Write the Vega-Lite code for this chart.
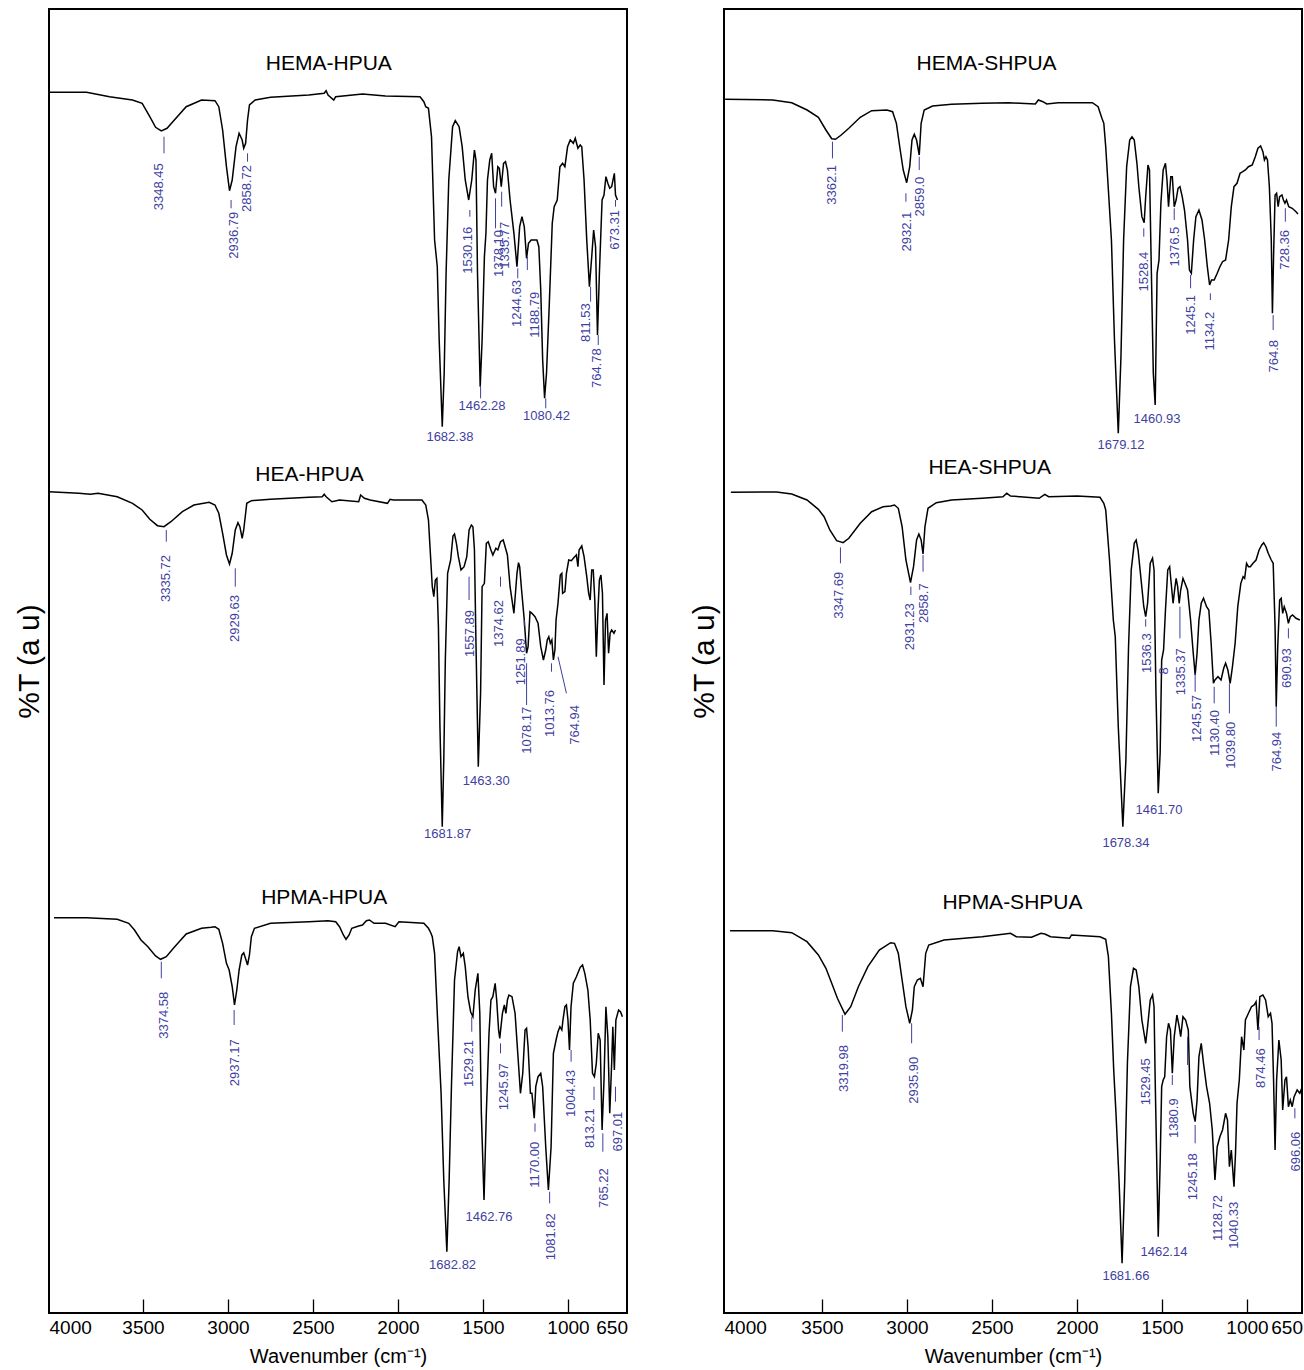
{
"$schema":"https://vega.github.io/schema/vega-lite/v6.json",
"background":"white",
"padding":{"left":13,"top":8,"right":2,"bottom":2},
"spacing":59,
"config":{"view":{"stroke":"black","strokeWidth":2},"font":"Liberation Sans","text":{"font":"Liberation Sans"}},
"datasets":{
"spec":[
{"p":"L","s":"A","w":4000,"v":122.07},{"p":"L","s":"A","w":3779,"v":122.07},{"p":"L","s":"A","w":3644,"v":121.63},{"p":"L","s":"A","w":3509,"v":121.3},{"p":"L","s":"A","w":3452,"v":120.97},{"p":"L","s":"A","w":3407,"v":119.63},{"p":"L","s":"A","w":3373,"v":118.57},{"p":"L","s":"A","w":3339.4,"v":118.2},{"p":"L","s":"A","w":3305.6,"v":118.47},{"p":"L","s":"A","w":3271.8,"v":119.13},{"p":"L","s":"A","w":3193,"v":120.63},{"p":"L","s":"A","w":3102.7,"v":121.3},{"p":"L","s":"A","w":3023.8,"v":121.23},{"p":"L","s":"A","w":3001.2,"v":120.63},{"p":"L","s":"A","w":2978.7,"v":118.3},{"p":"L","s":"A","w":2956.2,"v":114.63},{"p":"L","s":"A","w":2938.2,"v":112.23},{"p":"L","s":"A","w":2922.3,"v":113.3},{"p":"L","s":"A","w":2899.8,"v":116.63},{"p":"L","s":"A","w":2881.7,"v":117.97},{"p":"L","s":"A","w":2863.7,"v":117.3},{"p":"L","s":"A","w":2854.7,"v":116.47},{"p":"L","s":"A","w":2843.4,"v":116.97},{"p":"L","s":"A","w":2832.1,"v":119.3},{"p":"L","s":"A","w":2820.8,"v":120.8},{"p":"L","s":"A","w":2787,"v":121.3},{"p":"L","s":"A","w":2696.8,"v":121.57},{"p":"L","s":"A","w":2471.4,"v":121.8},{"p":"L","s":"A","w":2381.2,"v":121.97},{"p":"L","s":"A","w":2369.9,"v":122.23},{"p":"L","s":"A","w":2358.6,"v":121.8},{"p":"L","s":"A","w":2324.8,"v":121.3},{"p":"L","s":"A","w":2313.5,"v":121.63},{"p":"L","s":"A","w":2155.7,"v":121.9},{"p":"L","s":"A","w":2020.5,"v":121.7},{"p":"L","s":"A","w":1817.6,"v":121.63},{"p":"L","s":"A","w":1795,"v":121.13},{"p":"L","s":"A","w":1783.7,"v":120.63},{"p":"L","s":"A","w":1767.9,"v":120.47},{"p":"L","s":"A","w":1749.9,"v":117.63},{"p":"L","s":"A","w":1731.8,"v":107.3},{"p":"L","s":"A","w":1716,"v":104.63},{"p":"L","s":"A","w":1704.8,"v":97.3},{"p":"L","s":"A","w":1686.7,"v":88.63},{"p":"L","s":"A","w":1675.5,"v":93.97},{"p":"L","s":"A","w":1664.2,"v":103.97},{"p":"L","s":"A","w":1648.4,"v":113.3},{"p":"L","s":"A","w":1625.9,"v":118.63},{"p":"L","s":"A","w":1610.1,"v":119.23},{"p":"L","s":"A","w":1587.6,"v":118.63},{"p":"L","s":"A","w":1569.6,"v":116.63},{"p":"L","s":"A","w":1551.5,"v":113.3},{"p":"L","s":"A","w":1531.2,"v":111.3},{"p":"L","s":"A","w":1513.2,"v":113.3},{"p":"L","s":"A","w":1497.4,"v":116.3},{"p":"L","s":"A","w":1488.4,"v":115.3},{"p":"L","s":"A","w":1479.4,"v":103.97},{"p":"L","s":"A","w":1463.6,"v":92.63},{"p":"L","s":"A","w":1452.3,"v":97.3},{"p":"L","s":"A","w":1438.8,"v":105.63},{"p":"L","s":"A","w":1429.8,"v":107.97},{"p":"L","s":"A","w":1420.8,"v":113.3},{"p":"L","s":"A","w":1407.2,"v":115.3},{"p":"L","s":"A","w":1395.9,"v":115.97},{"p":"L","s":"A","w":1384.6,"v":112.63},{"p":"L","s":"A","w":1373.4,"v":111.97},{"p":"L","s":"A","w":1359.9,"v":114.63},{"p":"L","s":"A","w":1350.8,"v":114.47},{"p":"L","s":"A","w":1339.6,"v":112.63},{"p":"L","s":"A","w":1326.1,"v":114.97},{"p":"L","s":"A","w":1314.8,"v":115.13},{"p":"L","s":"A","w":1303.5,"v":114.3},{"p":"L","s":"A","w":1287.8,"v":111.3},{"p":"L","s":"A","w":1265.2,"v":107.97},{"p":"L","s":"A","w":1247.2,"v":104.63},{"p":"L","s":"A","w":1231.4,"v":108.63},{"p":"L","s":"A","w":1217.9,"v":109.63},{"p":"L","s":"A","w":1204.3,"v":108.63},{"p":"L","s":"A","w":1190.8,"v":105.47},{"p":"L","s":"A","w":1179.5,"v":106.97},{"p":"L","s":"A","w":1163.7,"v":107.3},{"p":"L","s":"A","w":1129.9,"v":107.3},{"p":"L","s":"A","w":1118.6,"v":106.63},{"p":"L","s":"A","w":1107.4,"v":102.3},{"p":"L","s":"A","w":1096.1,"v":95.3},{"p":"L","s":"A","w":1084.8,"v":91.47},{"p":"L","s":"A","w":1073.5,"v":93.97},{"p":"L","s":"A","w":1057.7,"v":100.63},{"p":"L","s":"A","w":1039.7,"v":108.97},{"p":"L","s":"A","w":1028.4,"v":110.63},{"p":"L","s":"A","w":1010.4,"v":111.3},{"p":"L","s":"A","w":994.6,"v":114.63},{"p":"L","s":"A","w":978.8,"v":114.97},{"p":"L","s":"A","w":965.3,"v":114.63},{"p":"L","s":"A","w":949.5,"v":116.63},{"p":"L","s":"A","w":933.7,"v":117.3},{"p":"L","s":"A","w":915.7,"v":116.97},{"p":"L","s":"A","w":904.4,"v":117.47},{"p":"L","s":"A","w":888.7,"v":116.47},{"p":"L","s":"A","w":875.1,"v":116.8},{"p":"L","s":"A","w":866.1,"v":116.63},{"p":"L","s":"A","w":852.6,"v":113.3},{"p":"L","s":"A","w":836.8,"v":107.3},{"p":"L","s":"A","w":821,"v":102.63},{"p":"L","s":"A","w":807.5,"v":105.63},{"p":"L","s":"A","w":796.2,"v":108.3},{"p":"L","s":"A","w":784.9,"v":106.63},{"p":"L","s":"A","w":773.6,"v":97.8},{"p":"L","s":"A","w":762.4,"v":103.97},{"p":"L","s":"A","w":746.6,"v":111.3},{"p":"L","s":"A","w":735.3,"v":111.8},{"p":"L","s":"A","w":724,"v":113.63},{"p":"L","s":"A","w":712.7,"v":112.97},{"p":"L","s":"A","w":701.5,"v":112.47},{"p":"L","s":"A","w":690.2,"v":112.63},{"p":"L","s":"A","w":674.4,"v":113.97},{"p":"L","s":"A","w":667.6,"v":111.8},{"p":"L","s":"A","w":656.3,"v":111.3},
{"p":"L","s":"B","w":4000,"v":82.13},{"p":"L","s":"B","w":3824.1,"v":81.97},{"p":"L","s":"B","w":3756.5,"v":81.87},{"p":"L","s":"B","w":3711.4,"v":81.97},{"p":"L","s":"B","w":3598.7,"v":81.63},{"p":"L","s":"B","w":3508.5,"v":80.97},{"p":"L","s":"B","w":3452.1,"v":80.3},{"p":"L","s":"B","w":3407,"v":79.37},{"p":"L","s":"B","w":3361.9,"v":78.73},{"p":"L","s":"B","w":3323.6,"v":78.63},{"p":"L","s":"B","w":3283,"v":79.13},{"p":"L","s":"B","w":3215.4,"v":80.13},{"p":"L","s":"B","w":3147.8,"v":80.8},{"p":"L","s":"B","w":3057.6,"v":81.07},{"p":"L","s":"B","w":3023.8,"v":80.8},{"p":"L","s":"B","w":3001.2,"v":79.97},{"p":"L","s":"B","w":2978.7,"v":77.97},{"p":"L","s":"B","w":2956.2,"v":75.8},{"p":"L","s":"B","w":2938.2,"v":74.9},{"p":"L","s":"B","w":2922.3,"v":75.97},{"p":"L","s":"B","w":2904.3,"v":78.3},{"p":"L","s":"B","w":2888.5,"v":79.03},{"p":"L","s":"B","w":2877.2,"v":78.63},{"p":"L","s":"B","w":2863.7,"v":77.47},{"p":"L","s":"B","w":2854.7,"v":78.3},{"p":"L","s":"B","w":2836.6,"v":80.97},{"p":"L","s":"B","w":2809.6,"v":81.23},{"p":"L","s":"B","w":2696.8,"v":81.37},{"p":"L","s":"B","w":2471.4,"v":81.57},{"p":"L","s":"B","w":2392.5,"v":81.63},{"p":"L","s":"B","w":2381.2,"v":81.87},{"p":"L","s":"B","w":2369.9,"v":81.63},{"p":"L","s":"B","w":2336.1,"v":81.13},{"p":"L","s":"B","w":2291,"v":81.3},{"p":"L","s":"B","w":2178.3,"v":81.13},{"p":"L","s":"B","w":2167,"v":81.8},{"p":"L","s":"B","w":2144.5,"v":81.47},{"p":"L","s":"B","w":2110.7,"v":81.3},{"p":"L","s":"B","w":2009.2,"v":80.97},{"p":"L","s":"B","w":1993.4,"v":81.37},{"p":"L","s":"B","w":1975.4,"v":81.3},{"p":"L","s":"B","w":1806.3,"v":81.3},{"p":"L","s":"B","w":1783.7,"v":80.8},{"p":"L","s":"B","w":1767.9,"v":79.3},{"p":"L","s":"B","w":1754.4,"v":75.3},{"p":"L","s":"B","w":1745.4,"v":72.63},{"p":"L","s":"B","w":1736.4,"v":71.63},{"p":"L","s":"B","w":1727.4,"v":73.3},{"p":"L","s":"B","w":1718.4,"v":73.47},{"p":"L","s":"B","w":1709.3,"v":68.63},{"p":"L","s":"B","w":1700.3,"v":58.63},{"p":"L","s":"B","w":1686.8,"v":48.63},{"p":"L","s":"B","w":1677.8,"v":55.3},{"p":"L","s":"B","w":1668.7,"v":65.3},{"p":"L","s":"B","w":1655.2,"v":73.97},{"p":"L","s":"B","w":1637.2,"v":75.3},{"p":"L","s":"B","w":1623.7,"v":77.7},{"p":"L","s":"B","w":1614.6,"v":77.9},{"p":"L","s":"B","w":1603.4,"v":76.97},{"p":"L","s":"B","w":1592.1,"v":75.63},{"p":"L","s":"B","w":1576.3,"v":74.3},{"p":"L","s":"B","w":1558.3,"v":74.63},{"p":"L","s":"B","w":1542.5,"v":75.63},{"p":"L","s":"B","w":1528.9,"v":78.3},{"p":"L","s":"B","w":1515.4,"v":78.8},{"p":"L","s":"B","w":1506.4,"v":78.63},{"p":"L","s":"B","w":1497.4,"v":76.3},{"p":"L","s":"B","w":1488.4,"v":66.97},{"p":"L","s":"B","w":1474.8,"v":54.63},{"p":"L","s":"B","w":1461.3,"v":61.97},{"p":"L","s":"B","w":1452.3,"v":72.63},{"p":"L","s":"B","w":1438.8,"v":72.97},{"p":"L","s":"B","w":1427.5,"v":76.97},{"p":"L","s":"B","w":1416.2,"v":77.13},{"p":"L","s":"B","w":1400.4,"v":76.3},{"p":"L","s":"B","w":1389.1,"v":75.8},{"p":"L","s":"B","w":1371.1,"v":76.47},{"p":"L","s":"B","w":1359.9,"v":76.3},{"p":"L","s":"B","w":1344.1,"v":77.13},{"p":"L","s":"B","w":1328.3,"v":77.3},{"p":"L","s":"B","w":1317,"v":76.63},{"p":"L","s":"B","w":1303.5,"v":75.8},{"p":"L","s":"B","w":1287.8,"v":72.63},{"p":"L","s":"B","w":1265.2,"v":69.97},{"p":"L","s":"B","w":1247.2,"v":73.97},{"p":"L","s":"B","w":1238.1,"v":75.03},{"p":"L","s":"B","w":1231.4,"v":74.63},{"p":"L","s":"B","w":1220.1,"v":72.3},{"p":"L","s":"B","w":1204.3,"v":69.3},{"p":"L","s":"B","w":1190.8,"v":65.97},{"p":"L","s":"B","w":1181.8,"v":66.63},{"p":"L","s":"B","w":1170.5,"v":70.13},{"p":"L","s":"B","w":1159.2,"v":69.97},{"p":"L","s":"B","w":1141.2,"v":69.63},{"p":"L","s":"B","w":1123.2,"v":68.97},{"p":"L","s":"B","w":1107.4,"v":66.63},{"p":"L","s":"B","w":1091.6,"v":65.3},{"p":"L","s":"B","w":1078.1,"v":66.3},{"p":"L","s":"B","w":1069,"v":67.3},{"p":"L","s":"B","w":1060,"v":67.63},{"p":"L","s":"B","w":1051,"v":66.97},{"p":"L","s":"B","w":1042,"v":67.3},{"p":"L","s":"B","w":1033,"v":65.3},{"p":"L","s":"B","w":1024,"v":66.3},{"p":"L","s":"B","w":1017.3,"v":69.3},{"p":"L","s":"B","w":1005.9,"v":70.97},{"p":"L","s":"B","w":992.4,"v":73.8},{"p":"L","s":"B","w":983.4,"v":73.97},{"p":"L","s":"B","w":978.8,"v":71.97},{"p":"L","s":"B","w":965.3,"v":72.13},{"p":"L","s":"B","w":956.3,"v":73.97},{"p":"L","s":"B","w":942.7,"v":75.3},{"p":"L","s":"B","w":927,"v":75.23},{"p":"L","s":"B","w":915.7,"v":75.47},{"p":"L","s":"B","w":897.7,"v":75.8},{"p":"L","s":"B","w":888.7,"v":74.63},{"p":"L","s":"B","w":881.9,"v":76.3},{"p":"L","s":"B","w":866.1,"v":76.7},{"p":"L","s":"B","w":852.6,"v":75.63},{"p":"L","s":"B","w":836.8,"v":73.63},{"p":"L","s":"B","w":825.5,"v":71.97},{"p":"L","s":"B","w":816.5,"v":71.3},{"p":"L","s":"B","w":807.5,"v":74.3},{"p":"L","s":"B","w":798.5,"v":74.3},{"p":"L","s":"B","w":789.5,"v":71.3},{"p":"L","s":"B","w":780.5,"v":65.63},{"p":"L","s":"B","w":771.4,"v":69.97},{"p":"L","s":"B","w":762.4,"v":73.3},{"p":"L","s":"B","w":753.4,"v":73.8},{"p":"L","s":"B","w":744.4,"v":71.97},{"p":"L","s":"B","w":735.3,"v":62.8},{"p":"L","s":"B","w":726.3,"v":69.3},{"p":"L","s":"B","w":717.3,"v":69.97},{"p":"L","s":"B","w":708.3,"v":65.97},{"p":"L","s":"B","w":699.3,"v":67.97},{"p":"L","s":"B","w":690.2,"v":68.3},{"p":"L","s":"B","w":676.7,"v":67.97},{"p":"L","s":"B","w":667.8,"v":68.3},
{"p":"L","s":"C","w":3970.7,"v":39.53},{"p":"L","s":"C","w":3779,"v":39.53},{"p":"L","s":"C","w":3598.7,"v":39.37},{"p":"L","s":"C","w":3531,"v":38.97},{"p":"L","s":"C","w":3497.2,"v":38.3},{"p":"L","s":"C","w":3458.9,"v":37.3},{"p":"L","s":"C","w":3418.3,"v":36.63},{"p":"L","s":"C","w":3373.2,"v":35.7},{"p":"L","s":"C","w":3343.9,"v":35.37},{"p":"L","s":"C","w":3310.1,"v":35.63},{"p":"L","s":"C","w":3260.5,"v":36.63},{"p":"L","s":"C","w":3192.9,"v":37.9},{"p":"L","s":"C","w":3102.7,"v":38.47},{"p":"L","s":"C","w":3046.3,"v":38.57},{"p":"L","s":"C","w":3023.8,"v":38.63},{"p":"L","s":"C","w":3001.2,"v":38.37},{"p":"L","s":"C","w":2978.7,"v":36.97},{"p":"L","s":"C","w":2956.2,"v":34.97},{"p":"L","s":"C","w":2940.3,"v":34.3},{"p":"L","s":"C","w":2922.3,"v":32.63},{"p":"L","s":"C","w":2908.8,"v":30.8},{"p":"L","s":"C","w":2895.3,"v":32.3},{"p":"L","s":"C","w":2881.7,"v":34.3},{"p":"L","s":"C","w":2865.9,"v":35.8},{"p":"L","s":"C","w":2854.7,"v":36.03},{"p":"L","s":"C","w":2841.1,"v":35.3},{"p":"L","s":"C","w":2832.1,"v":34.8},{"p":"L","s":"C","w":2820.8,"v":35.8},{"p":"L","s":"C","w":2809.6,"v":37.63},{"p":"L","s":"C","w":2791.5,"v":38.47},{"p":"L","s":"C","w":2696.8,"v":38.97},{"p":"L","s":"C","w":2471.4,"v":39.13},{"p":"L","s":"C","w":2358.6,"v":39.23},{"p":"L","s":"C","w":2313.5,"v":39.13},{"p":"L","s":"C","w":2291,"v":38.63},{"p":"L","s":"C","w":2268.5,"v":37.8},{"p":"L","s":"C","w":2252.7,"v":37.37},{"p":"L","s":"C","w":2234.7,"v":37.8},{"p":"L","s":"C","w":2218.9,"v":38.47},{"p":"L","s":"C","w":2178.3,"v":38.7},{"p":"L","s":"C","w":2155.8,"v":38.8},{"p":"L","s":"C","w":2133.2,"v":39.23},{"p":"L","s":"C","w":2115.2,"v":39.3},{"p":"L","s":"C","w":2088.1,"v":38.97},{"p":"L","s":"C","w":2020.5,"v":38.97},{"p":"L","s":"C","w":1964.2,"v":38.63},{"p":"L","s":"C","w":1941.6,"v":39.13},{"p":"L","s":"C","w":1795,"v":38.97},{"p":"L","s":"C","w":1767.9,"v":38.47},{"p":"L","s":"C","w":1754.4,"v":38.03},{"p":"L","s":"C","w":1745.4,"v":37.63},{"p":"L","s":"C","w":1731.9,"v":35.97},{"p":"L","s":"C","w":1716,"v":29.97},{"p":"L","s":"C","w":1693.6,"v":21.97},{"p":"L","s":"C","w":1677.8,"v":13.3},{"p":"L","s":"C","w":1659.7,"v":6.13},{"p":"L","s":"C","w":1646.2,"v":13.3},{"p":"L","s":"C","w":1632.7,"v":22.63},{"p":"L","s":"C","w":1614.6,"v":33.3},{"p":"L","s":"C","w":1596.6,"v":36.13},{"p":"L","s":"C","w":1587.6,"v":36.63},{"p":"L","s":"C","w":1576.3,"v":35.63},{"p":"L","s":"C","w":1562.8,"v":35.97},{"p":"L","s":"C","w":1551.5,"v":34.63},{"p":"L","s":"C","w":1535.7,"v":31.63},{"p":"L","s":"C","w":1520,"v":30.13},{"p":"L","s":"C","w":1506.4,"v":29.63},{"p":"L","s":"C","w":1492.9,"v":32.3},{"p":"L","s":"C","w":1477.1,"v":33.97},{"p":"L","s":"C","w":1465.8,"v":29.97},{"p":"L","s":"C","w":1456.8,"v":19.97},{"p":"L","s":"C","w":1441,"v":11.3},{"p":"L","s":"C","w":1427.5,"v":19.97},{"p":"L","s":"C","w":1411.7,"v":27.97},{"p":"L","s":"C","w":1400.4,"v":31.3},{"p":"L","s":"C","w":1389.1,"v":31.63},{"p":"L","s":"C","w":1375.6,"v":32.97},{"p":"L","s":"C","w":1366.6,"v":31.3},{"p":"L","s":"C","w":1355.4,"v":28.3},{"p":"L","s":"C","w":1348.6,"v":27.47},{"p":"L","s":"C","w":1332.8,"v":29.97},{"p":"L","s":"C","w":1321.5,"v":30.8},{"p":"L","s":"C","w":1312.5,"v":29.97},{"p":"L","s":"C","w":1303.5,"v":31.3},{"p":"L","s":"C","w":1294.5,"v":31.8},{"p":"L","s":"C","w":1276.5,"v":31.63},{"p":"L","s":"C","w":1258.4,"v":29.97},{"p":"L","s":"C","w":1242.6,"v":25.97},{"p":"L","s":"C","w":1226.8,"v":21.97},{"p":"L","s":"C","w":1213.3,"v":23.97},{"p":"L","s":"C","w":1199.8,"v":28.3},{"p":"L","s":"C","w":1190.8,"v":28.47},{"p":"L","s":"C","w":1181.8,"v":26.63},{"p":"L","s":"C","w":1168.3,"v":21.97},{"p":"L","s":"C","w":1159.2,"v":21.97},{"p":"L","s":"C","w":1145.7,"v":19.47},{"p":"L","s":"C","w":1136.7,"v":22.63},{"p":"L","s":"C","w":1123.2,"v":23.63},{"p":"L","s":"C","w":1107.4,"v":23.97},{"p":"L","s":"C","w":1096.1,"v":22.63},{"p":"L","s":"C","w":1078.1,"v":16.63},{"p":"L","s":"C","w":1062.4,"v":12.3},{"p":"L","s":"C","w":1046.6,"v":16.63},{"p":"L","s":"C","w":1033,"v":25.97},{"p":"L","s":"C","w":1017.3,"v":27.3},{"p":"L","s":"C","w":1005.9,"v":28.13},{"p":"L","s":"C","w":994.6,"v":28.63},{"p":"L","s":"C","w":983.4,"v":28.3},{"p":"L","s":"C","w":976.6,"v":29.3},{"p":"L","s":"C","w":965.3,"v":30.63},{"p":"L","s":"C","w":956.3,"v":30.8},{"p":"L","s":"C","w":947.3,"v":29.3},{"p":"L","s":"C","w":938.3,"v":26.3},{"p":"L","s":"C","w":929.3,"v":30.63},{"p":"L","s":"C","w":915.7,"v":32.97},{"p":"L","s":"C","w":897.7,"v":33.63},{"p":"L","s":"C","w":875.2,"v":34.57},{"p":"L","s":"C","w":861.6,"v":34.8},{"p":"L","s":"C","w":848.1,"v":33.97},{"p":"L","s":"C","w":830.1,"v":32.3},{"p":"L","s":"C","w":816.5,"v":29.3},{"p":"L","s":"C","w":803,"v":23.97},{"p":"L","s":"C","w":791.7,"v":23.63},{"p":"L","s":"C","w":780.5,"v":24.97},{"p":"L","s":"C","w":769.2,"v":27.97},{"p":"L","s":"C","w":757.9,"v":27.3},{"p":"L","s":"C","w":746.6,"v":18.3},{"p":"L","s":"C","w":735.3,"v":23.3},{"p":"L","s":"C","w":724.1,"v":30.63},{"p":"L","s":"C","w":712.7,"v":27.63},{"p":"L","s":"C","w":701.5,"v":19.97},{"p":"L","s":"C","w":690.2,"v":24.97},{"p":"L","s":"C","w":683.4,"v":28.63},{"p":"L","s":"C","w":674.4,"v":24.3},{"p":"L","s":"C","w":665.4,"v":29.3},{"p":"L","s":"C","w":649.6,"v":30.3},{"p":"L","s":"C","w":638.3,"v":30.13},{"p":"L","s":"C","w":627,"v":29.63},
{"p":"R","s":"D","w":3993.3,"v":121.37},{"p":"R","s":"D","w":3713.4,"v":121.3},{"p":"R","s":"D","w":3601.5,"v":121.03},{"p":"R","s":"D","w":3511.2,"v":120.3},{"p":"R","s":"D","w":3444.8,"v":119.57},{"p":"R","s":"D","w":3400.4,"v":118.3},{"p":"R","s":"D","w":3366.4,"v":117.43},{"p":"R","s":"D","w":3344,"v":117.37},{"p":"R","s":"D","w":3310.5,"v":117.8},{"p":"R","s":"D","w":3265.7,"v":118.47},{"p":"R","s":"D","w":3198.5,"v":119.57},{"p":"R","s":"D","w":3131.4,"v":120.23},{"p":"R","s":"D","w":3041.8,"v":120.3},{"p":"R","s":"D","w":3008.3,"v":120.13},{"p":"R","s":"D","w":2985.9,"v":118.97},{"p":"R","s":"D","w":2963.5,"v":116.3},{"p":"R","s":"D","w":2945.6,"v":114.3},{"p":"R","s":"D","w":2925.4,"v":113.03},{"p":"R","s":"D","w":2907.5,"v":114.63},{"p":"R","s":"D","w":2894.1,"v":117.3},{"p":"R","s":"D","w":2880.7,"v":117.87},{"p":"R","s":"D","w":2867.2,"v":117.3},{"p":"R","s":"D","w":2851.5,"v":115.8},{"p":"R","s":"D","w":2840.4,"v":118.97},{"p":"R","s":"D","w":2822.4,"v":120.3},{"p":"R","s":"D","w":2773.2,"v":120.7},{"p":"R","s":"D","w":2661.3,"v":120.87},{"p":"R","s":"D","w":2482.2,"v":120.97},{"p":"R","s":"D","w":2325.5,"v":121.03},{"p":"R","s":"D","w":2258.3,"v":120.97},{"p":"R","s":"D","w":2168.7,"v":120.9},{"p":"R","s":"D","w":2150.8,"v":121.3},{"p":"R","s":"D","w":2123.9,"v":121.13},{"p":"R","s":"D","w":2101.6,"v":120.9},{"p":"R","s":"D","w":2034.4,"v":121.03},{"p":"R","s":"D","w":1832.9,"v":121.03},{"p":"R","s":"D","w":1799.4,"v":120.63},{"p":"R","s":"D","w":1777,"v":119.47},{"p":"R","s":"D","w":1765.8,"v":118.97},{"p":"R","s":"D","w":1754.6,"v":116.63},{"p":"R","s":"D","w":1738.9,"v":112.3},{"p":"R","s":"D","w":1721,"v":107.3},{"p":"R","s":"D","w":1703.1,"v":97.3},{"p":"R","s":"D","w":1680.7,"v":87.97},{"p":"R","s":"D","w":1665,"v":95.63},{"p":"R","s":"D","w":1649.4,"v":107.3},{"p":"R","s":"D","w":1631.5,"v":114.63},{"p":"R","s":"D","w":1613.5,"v":117.3},{"p":"R","s":"D","w":1600.1,"v":117.63},{"p":"R","s":"D","w":1586.7,"v":117.3},{"p":"R","s":"D","w":1571,"v":114.97},{"p":"R","s":"D","w":1559.8,"v":112.63},{"p":"R","s":"D","w":1541.9,"v":109.63},{"p":"R","s":"D","w":1528.5,"v":109.03},{"p":"R","s":"D","w":1519.5,"v":111.63},{"p":"R","s":"D","w":1506.1,"v":114.8},{"p":"R","s":"D","w":1497.1,"v":114.3},{"p":"R","s":"D","w":1485.9,"v":103.97},{"p":"R","s":"D","w":1474.7,"v":93.97},{"p":"R","s":"D","w":1463.6,"v":90.8},{"p":"R","s":"D","w":1452.4,"v":103.97},{"p":"R","s":"D","w":1441.2,"v":105.3},{"p":"R","s":"D","w":1430,"v":110.97},{"p":"R","s":"D","w":1416.6,"v":114.3},{"p":"R","s":"D","w":1403.1,"v":114.97},{"p":"R","s":"D","w":1394.2,"v":113.3},{"p":"R","s":"D","w":1385.2,"v":110.63},{"p":"R","s":"D","w":1371.8,"v":113.63},{"p":"R","s":"D","w":1362.8,"v":113.63},{"p":"R","s":"D","w":1351.6,"v":110.63},{"p":"R","s":"D","w":1340.4,"v":111.3},{"p":"R","s":"D","w":1329.2,"v":112.47},{"p":"R","s":"D","w":1318.1,"v":112.63},{"p":"R","s":"D","w":1304.6,"v":111.63},{"p":"R","s":"D","w":1291.2,"v":110.3},{"p":"R","s":"D","w":1273.3,"v":107.3},{"p":"R","s":"D","w":1262.1,"v":104.3},{"p":"R","s":"D","w":1250.9,"v":103.97},{"p":"R","s":"D","w":1237.5,"v":107.3},{"p":"R","s":"D","w":1224.1,"v":109.63},{"p":"R","s":"D","w":1206.2,"v":110.3},{"p":"R","s":"D","w":1188.3,"v":109.3},{"p":"R","s":"D","w":1172.6,"v":107.3},{"p":"R","s":"D","w":1156.9,"v":104.63},{"p":"R","s":"D","w":1143.5,"v":102.8},{"p":"R","s":"D","w":1132.3,"v":103.3},{"p":"R","s":"D","w":1116.6,"v":103.3},{"p":"R","s":"D","w":1098.7,"v":103.97},{"p":"R","s":"D","w":1083,"v":104.63},{"p":"R","s":"D","w":1067.4,"v":105.13},{"p":"R","s":"D","w":1049.5,"v":105.3},{"p":"R","s":"D","w":1031.6,"v":107.3},{"p":"R","s":"D","w":1015.9,"v":110.63},{"p":"R","s":"D","w":1000.1,"v":112.63},{"p":"R","s":"D","w":982.3,"v":112.97},{"p":"R","s":"D","w":964.4,"v":113.97},{"p":"R","s":"D","w":948.7,"v":114.13},{"p":"R","s":"D","w":933,"v":114.3},{"p":"R","s":"D","w":915.1,"v":114.63},{"p":"R","s":"D","w":892.7,"v":114.8},{"p":"R","s":"D","w":874.8,"v":115.63},{"p":"R","s":"D","w":859.1,"v":116.47},{"p":"R","s":"D","w":843.4,"v":116.7},{"p":"R","s":"D","w":830,"v":116.13},{"p":"R","s":"D","w":821.1,"v":115.3},{"p":"R","s":"D","w":812.1,"v":115.63},{"p":"R","s":"D","w":803.1,"v":115.3},{"p":"R","s":"D","w":791.9,"v":112.63},{"p":"R","s":"D","w":780.7,"v":107.3},{"p":"R","s":"D","w":774,"v":99.97},{"p":"R","s":"D","w":767.3,"v":105.63},{"p":"R","s":"D","w":758.4,"v":111.8},{"p":"R","s":"D","w":749.4,"v":111.97},{"p":"R","s":"D","w":740.4,"v":110.63},{"p":"R","s":"D","w":731.5,"v":111.63},{"p":"R","s":"D","w":718.1,"v":111.8},{"p":"R","s":"D","w":709.1,"v":111.3},{"p":"R","s":"D","w":700.2,"v":110.97},{"p":"R","s":"D","w":691.2,"v":111.3},{"p":"R","s":"D","w":677.8,"v":110.63},{"p":"R","s":"D","w":657.6,"v":110.47},{"p":"R","s":"D","w":635.2,"v":110.13},{"p":"R","s":"D","w":623.7,"v":109.9},
{"p":"R","s":"E","w":3959.7,"v":82.07},{"p":"R","s":"E","w":3691.1,"v":82.1},{"p":"R","s":"E","w":3601.5,"v":81.9},{"p":"R","s":"E","w":3511.8,"v":81.3},{"p":"R","s":"E","w":3444.8,"v":80.37},{"p":"R","s":"E","w":3411.2,"v":79.63},{"p":"R","s":"E","w":3377.6,"v":78.3},{"p":"R","s":"E","w":3337.3,"v":77.23},{"p":"R","s":"E","w":3299.3,"v":77.03},{"p":"R","s":"E","w":3265.7,"v":77.47},{"p":"R","s":"E","w":3198.5,"v":78.97},{"p":"R","s":"E","w":3131.4,"v":80.13},{"p":"R","s":"E","w":3064.2,"v":80.63},{"p":"R","s":"E","w":3019.5,"v":80.7},{"p":"R","s":"E","w":2997.1,"v":80.8},{"p":"R","s":"E","w":2974.7,"v":80.47},{"p":"R","s":"E","w":2952.3,"v":78.63},{"p":"R","s":"E","w":2929.9,"v":75.3},{"p":"R","s":"E","w":2903,"v":73.03},{"p":"R","s":"E","w":2885.1,"v":74.63},{"p":"R","s":"E","w":2867.2,"v":77.3},{"p":"R","s":"E","w":2853.8,"v":77.9},{"p":"R","s":"E","w":2840.4,"v":77.3},{"p":"R","s":"E","w":2829.2,"v":75.9},{"p":"R","s":"E","w":2817.9,"v":78.63},{"p":"R","s":"E","w":2800,"v":80.47},{"p":"R","s":"E","w":2750.8,"v":81.03},{"p":"R","s":"E","w":2661.3,"v":81.3},{"p":"R","s":"E","w":2482.2,"v":81.47},{"p":"R","s":"E","w":2359.4,"v":81.63},{"p":"R","s":"E","w":2336.6,"v":81.97},{"p":"R","s":"E","w":2314.3,"v":81.7},{"p":"R","s":"E","w":2258.3,"v":81.63},{"p":"R","s":"E","w":2146.4,"v":81.47},{"p":"R","s":"E","w":2112.8,"v":81.87},{"p":"R","s":"E","w":2090.4,"v":81.63},{"p":"R","s":"E","w":1922.5,"v":81.7},{"p":"R","s":"E","w":1788.2,"v":81.57},{"p":"R","s":"E","w":1765.8,"v":80.97},{"p":"R","s":"E","w":1754.6,"v":80.3},{"p":"R","s":"E","w":1732.2,"v":75.3},{"p":"R","s":"E","w":1709.8,"v":69.3},{"p":"R","s":"E","w":1698.5,"v":67.63},{"p":"R","s":"E","w":1680.7,"v":58.63},{"p":"R","s":"E","w":1653.8,"v":48.63},{"p":"R","s":"E","w":1635.9,"v":55.3},{"p":"R","s":"E","w":1620.3,"v":66.63},{"p":"R","s":"E","w":1604.6,"v":74.3},{"p":"R","s":"E","w":1586.7,"v":76.97},{"p":"R","s":"E","w":1575.5,"v":77.3},{"p":"R","s":"E","w":1564.3,"v":76.3},{"p":"R","s":"E","w":1546.4,"v":73.3},{"p":"R","s":"E","w":1530.7,"v":70.63},{"p":"R","s":"E","w":1519.5,"v":69.63},{"p":"R","s":"E","w":1508.3,"v":70.97},{"p":"R","s":"E","w":1492.7,"v":74.97},{"p":"R","s":"E","w":1479.2,"v":75.47},{"p":"R","s":"E","w":1470.3,"v":74.3},{"p":"R","s":"E","w":1459.1,"v":61.97},{"p":"R","s":"E","w":1445.7,"v":51.97},{"p":"R","s":"E","w":1434.5,"v":55.97},{"p":"R","s":"E","w":1425.5,"v":65.3},{"p":"R","s":"E","w":1414.3,"v":66.3},{"p":"R","s":"E","w":1403.1,"v":70.3},{"p":"R","s":"E","w":1389.7,"v":74.3},{"p":"R","s":"E","w":1378.5,"v":74.63},{"p":"R","s":"E","w":1369.5,"v":72.97},{"p":"R","s":"E","w":1358.3,"v":70.97},{"p":"R","s":"E","w":1349.4,"v":72.3},{"p":"R","s":"E","w":1340.4,"v":73.47},{"p":"R","s":"E","w":1331.5,"v":72.63},{"p":"R","s":"E","w":1322.5,"v":70.97},{"p":"R","s":"E","w":1313.6,"v":72.3},{"p":"R","s":"E","w":1300.1,"v":73.47},{"p":"R","s":"E","w":1284.5,"v":72.8},{"p":"R","s":"E","w":1273.3,"v":72.3},{"p":"R","s":"E","w":1255.4,"v":69.3},{"p":"R","s":"E","w":1239.7,"v":65.97},{"p":"R","s":"E","w":1228.5,"v":63.8},{"p":"R","s":"E","w":1217.3,"v":65.97},{"p":"R","s":"E","w":1206.2,"v":69.3},{"p":"R","s":"E","w":1192.7,"v":70.97},{"p":"R","s":"E","w":1179.3,"v":71.47},{"p":"R","s":"E","w":1161.4,"v":70.63},{"p":"R","s":"E","w":1148,"v":70.3},{"p":"R","s":"E","w":1134.5,"v":66.97},{"p":"R","s":"E","w":1121.1,"v":62.97},{"p":"R","s":"E","w":1112.1,"v":63.3},{"p":"R","s":"E","w":1094.2,"v":63.63},{"p":"R","s":"E","w":1076.3,"v":63.3},{"p":"R","s":"E","w":1060.6,"v":64.47},{"p":"R","s":"E","w":1049.4,"v":64.97},{"p":"R","s":"E","w":1036,"v":64.3},{"p":"R","s":"E","w":1022.6,"v":62.97},{"p":"R","s":"E","w":1009.1,"v":64.63},{"p":"R","s":"E","w":993.4,"v":66.97},{"p":"R","s":"E","w":977.8,"v":70.63},{"p":"R","s":"E","w":959.8,"v":72.97},{"p":"R","s":"E","w":946.4,"v":73.63},{"p":"R","s":"E","w":937.4,"v":73.47},{"p":"R","s":"E","w":926.2,"v":74.97},{"p":"R","s":"E","w":915.1,"v":74.63},{"p":"R","s":"E","w":903.9,"v":74.63},{"p":"R","s":"E","w":888.2,"v":74.97},{"p":"R","s":"E","w":870.3,"v":75.3},{"p":"R","s":"E","w":852.4,"v":76.3},{"p":"R","s":"E","w":836.7,"v":76.8},{"p":"R","s":"E","w":825.5,"v":77.03},{"p":"R","s":"E","w":812.1,"v":76.63},{"p":"R","s":"E","w":798.7,"v":75.97},{"p":"R","s":"E","w":780.7,"v":75.3},{"p":"R","s":"E","w":769.5,"v":74.97},{"p":"R","s":"E","w":758.4,"v":68.63},{"p":"R","s":"E","w":751.6,"v":60.63},{"p":"R","s":"E","w":742.7,"v":66.63},{"p":"R","s":"E","w":731.5,"v":71.3},{"p":"R","s":"E","w":722.5,"v":71.47},{"p":"R","s":"E","w":713.6,"v":69.97},{"p":"R","s":"E","w":704.6,"v":70.63},{"p":"R","s":"E","w":691.2,"v":69.97},{"p":"R","s":"E","w":680,"v":68.97},{"p":"R","s":"E","w":668.8,"v":69.63},{"p":"R","s":"E","w":655.4,"v":69.8},{"p":"R","s":"E","w":635.2,"v":69.47},{"p":"R","s":"E","w":612.8,"v":69.3},
{"p":"R","s":"F","w":3964.2,"v":38.23},{"p":"R","s":"F","w":3713.4,"v":38.23},{"p":"R","s":"F","w":3601.5,"v":38.03},{"p":"R","s":"F","w":3511.8,"v":37.13},{"p":"R","s":"F","w":3444.8,"v":35.8},{"p":"R","s":"F","w":3400.4,"v":34.47},{"p":"R","s":"F","w":3366.4,"v":32.97},{"p":"R","s":"F","w":3332.9,"v":31.47},{"p":"R","s":"F","w":3288.1,"v":29.87},{"p":"R","s":"F","w":3254.5,"v":30.63},{"p":"R","s":"F","w":3209.7,"v":32.63},{"p":"R","s":"F","w":3153.7,"v":34.63},{"p":"R","s":"F","w":3086.6,"v":36.3},{"p":"R","s":"F","w":3019.5,"v":37.03},{"p":"R","s":"F","w":2997.1,"v":36.97},{"p":"R","s":"F","w":2974.7,"v":35.97},{"p":"R","s":"F","w":2952.3,"v":33.3},{"p":"R","s":"F","w":2929.9,"v":30.63},{"p":"R","s":"F","w":2907.5,"v":28.97},{"p":"R","s":"F","w":2891.8,"v":30.3},{"p":"R","s":"F","w":2880.7,"v":32.63},{"p":"R","s":"F","w":2862.7,"v":33.3},{"p":"R","s":"F","w":2844.8,"v":33.47},{"p":"R","s":"F","w":2829.2,"v":32.63},{"p":"R","s":"F","w":2813.5,"v":35.97},{"p":"R","s":"F","w":2795.6,"v":36.8},{"p":"R","s":"F","w":2706,"v":37.3},{"p":"R","s":"F","w":2482.2,"v":37.63},{"p":"R","s":"F","w":2347.8,"v":37.9},{"p":"R","s":"F","w":2314.3,"v":37.97},{"p":"R","s":"F","w":2280.7,"v":37.63},{"p":"R","s":"F","w":2191.1,"v":37.57},{"p":"R","s":"F","w":2135.2,"v":37.97},{"p":"R","s":"F","w":2112.8,"v":37.9},{"p":"R","s":"F","w":2079.2,"v":37.63},{"p":"R","s":"F","w":1967.3,"v":37.47},{"p":"R","s":"F","w":1956.1,"v":37.8},{"p":"R","s":"F","w":1788.2,"v":37.63},{"p":"R","s":"F","w":1754.6,"v":37.37},{"p":"R","s":"F","w":1738.9,"v":35.63},{"p":"R","s":"F","w":1721,"v":29.97},{"p":"R","s":"F","w":1707.6,"v":24.3},{"p":"R","s":"F","w":1694.2,"v":19.97},{"p":"R","s":"F","w":1676.3,"v":13.3},{"p":"R","s":"F","w":1658.3,"v":4.97},{"p":"R","s":"F","w":1642.7,"v":13.3},{"p":"R","s":"F","w":1627,"v":24.97},{"p":"R","s":"F","w":1609.1,"v":32.63},{"p":"R","s":"F","w":1591.2,"v":34.47},{"p":"R","s":"F","w":1575.5,"v":34.3},{"p":"R","s":"F","w":1559.8,"v":32.63},{"p":"R","s":"F","w":1541.9,"v":29.3},{"p":"R","s":"F","w":1519.5,"v":26.97},{"p":"R","s":"F","w":1508.3,"v":28.63},{"p":"R","s":"F","w":1492.7,"v":31.3},{"p":"R","s":"F","w":1479.2,"v":31.8},{"p":"R","s":"F","w":1470.3,"v":30.63},{"p":"R","s":"F","w":1463.6,"v":23.3},{"p":"R","s":"F","w":1452.4,"v":13.3},{"p":"R","s":"F","w":1445.7,"v":7.63},{"p":"R","s":"F","w":1434.5,"v":14.97},{"p":"R","s":"F","w":1425.5,"v":22.63},{"p":"R","s":"F","w":1416.6,"v":23.3},{"p":"R","s":"F","w":1407.6,"v":23.63},{"p":"R","s":"F","w":1396.4,"v":27.63},{"p":"R","s":"F","w":1385.2,"v":28.97},{"p":"R","s":"F","w":1374,"v":28.3},{"p":"R","s":"F","w":1362.8,"v":23.97},{"p":"R","s":"F","w":1351.6,"v":27.63},{"p":"R","s":"F","w":1335.9,"v":29.8},{"p":"R","s":"F","w":1322.5,"v":28.63},{"p":"R","s":"F","w":1313.6,"v":27.63},{"p":"R","s":"F","w":1300.1,"v":29.63},{"p":"R","s":"F","w":1284.5,"v":29.3},{"p":"R","s":"F","w":1268.8,"v":28.3},{"p":"R","s":"F","w":1259.8,"v":22.63},{"p":"R","s":"F","w":1239.7,"v":19.97},{"p":"R","s":"F","w":1228.5,"v":19.13},{"p":"R","s":"F","w":1217.3,"v":21.3},{"p":"R","s":"F","w":1206.2,"v":25.63},{"p":"R","s":"F","w":1192.7,"v":26.97},{"p":"R","s":"F","w":1179.3,"v":24.97},{"p":"R","s":"F","w":1161.4,"v":22.63},{"p":"R","s":"F","w":1143.5,"v":20.97},{"p":"R","s":"F","w":1127.8,"v":18.3},{"p":"R","s":"F","w":1112.1,"v":13.3},{"p":"R","s":"F","w":1098.7,"v":16.63},{"p":"R","s":"F","w":1083,"v":17.63},{"p":"R","s":"F","w":1067.4,"v":18.3},{"p":"R","s":"F","w":1049.5,"v":19.97},{"p":"R","s":"F","w":1038.3,"v":19.3},{"p":"R","s":"F","w":1027,"v":14.63},{"p":"R","s":"F","w":1015.8,"v":16.3},{"p":"R","s":"F","w":1000.1,"v":12.63},{"p":"R","s":"F","w":991.1,"v":15.97},{"p":"R","s":"F","w":982.2,"v":20.97},{"p":"R","s":"F","w":968.8,"v":23.3},{"p":"R","s":"F","w":955.4,"v":27.63},{"p":"R","s":"F","w":941.9,"v":26.3},{"p":"R","s":"F","w":932.9,"v":29.3},{"p":"R","s":"F","w":915.1,"v":29.97},{"p":"R","s":"F","w":897.2,"v":30.63},{"p":"R","s":"F","w":881.5,"v":30.8},{"p":"R","s":"F","w":870.3,"v":31.13},{"p":"R","s":"F","w":859.1,"v":28.3},{"p":"R","s":"F","w":847.9,"v":31.63},{"p":"R","s":"F","w":830,"v":31.8},{"p":"R","s":"F","w":814.3,"v":31.3},{"p":"R","s":"F","w":798.7,"v":29.63},{"p":"R","s":"F","w":785.2,"v":29.97},{"p":"R","s":"F","w":776.3,"v":28.97},{"p":"R","s":"F","w":767.3,"v":23.3},{"p":"R","s":"F","w":758.4,"v":16.3},{"p":"R","s":"F","w":749.4,"v":23.3},{"p":"R","s":"F","w":736,"v":27.3},{"p":"R","s":"F","w":722.5,"v":25.3},{"p":"R","s":"F","w":713.6,"v":20.3},{"p":"R","s":"F","w":700.2,"v":23.3},{"p":"R","s":"F","w":691.2,"v":23.63},{"p":"R","s":"F","w":680,"v":20.63},{"p":"R","s":"F","w":668.8,"v":21.3},{"p":"R","s":"F","w":657.6,"v":20.63},{"p":"R","s":"F","w":646.4,"v":21.63},{"p":"R","s":"F","w":628.5,"v":22.3},{"p":"R","s":"F","w":612.8,"v":21.97},{"p":"R","s":"F","w":601.6,"v":22.47}
],
"lab":[
{"p":"L","o":"v","t":"3348.45","tx":3355,"ty":114.97},{"p":"L","o":"v","t":"2936.79","tx":2911,"ty":110.13},{"p":"L","o":"v","t":"2858.72","tx":2836.7,"ty":114.8},{"p":"L","o":"v","t":"1530.16","tx":1538,"ty":108.63},{"p":"L","o":"v","t":"1378.10","tx":1355.4,"ty":108.3},{"p":"L","o":"v","t":"1335.77","tx":1317,"ty":109.13},{"p":"L","o":"v","t":"1244.63","tx":1247.1,"ty":103.3},{"p":"L","o":"v","t":"1188.79","tx":1141.2,"ty":102.13},{"p":"L","o":"v","t":"811.53","tx":841.3,"ty":100.97},{"p":"L","o":"v","t":"764.78","tx":773.7,"ty":96.47},{"p":"L","o":"v","t":"673.31","tx":667.7,"ty":110.3},{"p":"L","o":"h","t":"1682.38","tx":1641.7,"ty":87.63},{"p":"L","o":"h","t":"1462.28","tx":1452.5,"ty":90.7},{"p":"L","o":"h","t":"1080.42","tx":1073.5,"ty":89.7},
{"p":"L","o":"v","t":"3335.72","tx":3310.1,"ty":75.8},{"p":"L","o":"v","t":"2929.63","tx":2908.8,"ty":71.8},{"p":"L","o":"v","t":"1557.89","tx":1524.4,"ty":70.3},{"p":"L","o":"v","t":"1374.62","tx":1355.4,"ty":71.3},{"p":"L","o":"v","t":"1251.89","tx":1224.3,"ty":67.47},{"p":"L","o":"v","t":"1078.17","tx":1186.3,"ty":60.63},{"p":"L","o":"v","t":"1013.76","tx":1051,"ty":62.3},{"p":"L","o":"v","t":"764.94","tx":904.4,"ty":60.8},{"p":"L","o":"h","t":"1463.30","tx":1427.5,"ty":53.23},{"p":"L","o":"h","t":"1681.87","tx":1655.2,"ty":47.9},
{"p":"L","o":"v","t":"3374.58","tx":3323.6,"ty":32.13},{"p":"L","o":"v","t":"2937.17","tx":2908.8,"ty":27.37},{"p":"L","o":"v","t":"1529.21","tx":1531.2,"ty":27.3},{"p":"L","o":"v","t":"1245.97","tx":1326.1,"ty":24.97},{"p":"L","o":"v","t":"1170.00","tx":1141.2,"ty":17.13},{"p":"L","o":"v","t":"1004.43","tx":926.6,"ty":24.3},{"p":"L","o":"v","t":"813.21","tx":816.5,"ty":20.47},{"p":"L","o":"v","t":"765.22","tx":735.3,"ty":14.47},{"p":"L","o":"v","t":"697.01","tx":652,"ty":20.13},{"p":"L","o":"v","t":"1081.82","tx":1047,"ty":9.97},{"p":"L","o":"h","t":"1462.76","tx":1411.7,"ty":9.57},{"p":"L","o":"h","t":"1682.82","tx":1625.9,"ty":4.8},
{"p":"R","o":"v","t":"3362.1","tx":3366.4,"ty":114.8},{"p":"R","o":"v","t":"2932.1","tx":2925.4,"ty":110.13},{"p":"R","o":"v","t":"2859.0","tx":2844.8,"ty":113.63},{"p":"R","o":"v","t":"1528.4","tx":1530.7,"ty":106.13},{"p":"R","o":"v","t":"1376.5","tx":1344.9,"ty":108.63},{"p":"R","o":"v","t":"1245.1","tx":1255.4,"ty":101.8},{"p":"R","o":"v","t":"1134.2","tx":1138.9,"ty":100.13},{"p":"R","o":"v","t":"764.8","tx":767.4,"ty":97.3},{"p":"R","o":"v","t":"728.36","tx":698,"ty":108.3},{"p":"R","o":"h","t":"1460.93","tx":1452.4,"ty":89.37},{"p":"R","o":"h","t":"1679.12","tx":1665,"ty":86.8},
{"p":"R","o":"v","t":"3347.69","tx":3321.7,"ty":74.13},{"p":"R","o":"v","t":"2931.23","tx":2907.5,"ty":70.97},{"p":"R","o":"v","t":"2858.7","tx":2822.4,"ty":72.97},{"p":"R","o":"v","t":"1536.3","tx":1512.8,"ty":67.97},{"p":"R","o":"v","t":"1335.37","tx":1311.3,"ty":66.47},{"p":"R","o":"v","t":"1245.57","tx":1217.3,"ty":61.8},{"p":"R","o":"v","t":"1130.40","tx":1109.8,"ty":60.3},{"p":"R","o":"v","t":"1039.80","tx":1015.8,"ty":59.13},{"p":"R","o":"v","t":"764.94","tx":744.9,"ty":58.13},{"p":"R","o":"v","t":"690.93","tx":686.7,"ty":66.47},{"p":"R","o":"v","t":"8","tx":1412.1,"ty":64.57},{"p":"R","o":"h","t":"1461.70","tx":1441.2,"ty":50.3},{"p":"R","o":"h","t":"1678.34","tx":1635.9,"ty":47.03},
{"p":"R","o":"v","t":"3319.98","tx":3292.6,"ty":26.8},{"p":"R","o":"v","t":"2935.90","tx":2885.1,"ty":25.63},{"p":"R","o":"v","t":"1529.45","tx":1519.5,"ty":25.47},{"p":"R","o":"v","t":"1380.9","tx":1351.6,"ty":21.47},{"p":"R","o":"v","t":"1245.18","tx":1239.7,"ty":15.97},{"p":"R","o":"v","t":"1128.72","tx":1094.2,"ty":11.8},{"p":"R","o":"v","t":"1040.33","tx":1000.1,"ty":11.13},{"p":"R","o":"v","t":"874.46","tx":843.4,"ty":26.47},{"p":"R","o":"v","t":"696.06","tx":635.2,"ty":18.13},{"p":"R","o":"h","t":"1462.14","tx":1412.1,"ty":6.07},{"p":"R","o":"h","t":"1681.66","tx":1635.9,"ty":3.73},
{"p":"L","o":"t","t":"HEMA-HPUA","tx":2354.1,"ty":124.9},{"p":"L","o":"t","t":"HEA-HPUA","tx":2466.9,"ty":83.8},{"p":"L","o":"t","t":"HPMA-HPUA","tx":2381.2,"ty":41.47},
{"p":"R","o":"t","t":"HEMA-SHPUA","tx":2455.3,"ty":124.9},{"p":"R","o":"t","t":"HEA-SHPUA","tx":2437.4,"ty":84.47},{"p":"R","o":"t","t":"HPMA-SHPUA","tx":2303.1,"ty":41.03}
],
"tick":[
{"p":"L","kx":3323.6,"kx2":3323.6,"k1":117.63,"k2":115.97},{"p":"L","kx":2929,"kx2":2929,"k1":111.3,"k2":110.47},{"p":"L","kx":2832.1,"kx2":2832.1,"k1":115.97,"k2":115.13},{"p":"L","kx":1524.4,"kx2":1524.4,"k1":110.3,"k2":109.63},{"p":"L","kx":1373.4,"kx2":1373.4,"k1":111.47,"k2":108.47},{"p":"L","kx":1337.3,"kx2":1337.3,"k1":112.13,"k2":110.63},{"p":"L","kx":1242.6,"kx2":1242.6,"k1":104.47,"k2":103.47},{"p":"L","kx":1186.3,"kx2":1186.3,"k1":105.63,"k2":104.3},{"p":"L","kx":814.2,"kx2":814.2,"k1":102.63,"k2":101.13},{"p":"L","kx":769.2,"kx2":769.2,"k1":97.8,"k2":96.8},{"p":"L","kx":667.7,"kx2":667.7,"k1":111.3,"k2":110.63},{"p":"L","kx":1461.3,"kx2":1461.3,"k1":92.63,"k2":91.47},{"p":"L","kx":1078,"kx2":1078,"k1":91.47,"k2":90.47},
{"p":"L","kx":3310.1,"kx2":3310.1,"k1":78.3,"k2":77.13},{"p":"L","kx":2904.3,"kx2":2904.3,"k1":74.47,"k2":72.63},{"p":"L","kx":1529,"kx2":1529,"k1":73.63,"k2":71.3},{"p":"L","kx":1344.1,"kx2":1344.1,"k1":73.63,"k2":72.63},{"p":"L","kx":1204.3,"kx2":1204.3,"k1":69.3,"k2":68.63},{"p":"L","kx":1190.7,"kx2":1190.7,"k1":64.97,"k2":60.8},{"p":"L","kx":1044.2,"kx2":1044.2,"k1":64.97,"k2":64.13},{"p":"L","kx":1005.9,"kx2":956.3,"k1":65.63,"k2":61.97},
{"p":"L","kx":3339.4,"kx2":3339.4,"k1":35.13,"k2":33.47},{"p":"L","kx":2911,"kx2":2911,"k1":30.3,"k2":28.8},{"p":"L","kx":1513.2,"kx2":1513.2,"k1":29.63,"k2":28.13},{"p":"L","kx":1344.1,"kx2":1344.1,"k1":26.97,"k2":25.97},{"p":"L","kx":1141.2,"kx2":1141.2,"k1":18.97,"k2":18.13},{"p":"L","kx":928.8,"kx2":928.8,"k1":26.3,"k2":25.13},{"p":"L","kx":794,"kx2":794,"k1":22.63,"k2":21.3},{"p":"L","kx":742.1,"kx2":742.1,"k1":17.97,"k2":16.13},{"p":"L","kx":667.7,"kx2":667.7,"k1":22.63,"k2":21.13},{"p":"L","kx":1055.1,"kx2":1055.1,"k1":12.13,"k2":10.97},
{"p":"R","kx":3362,"kx2":3362,"k1":117.13,"k2":115.47},{"p":"R","kx":2929.9,"kx2":2929.9,"k1":111.97,"k2":111.13},{"p":"R","kx":2851.5,"kx2":2851.5,"k1":115.63,"k2":114.3},{"p":"R","kx":1530.7,"kx2":1530.7,"k1":108.47,"k2":107.63},{"p":"R","kx":1351.6,"kx2":1351.6,"k1":110.47,"k2":109.3},{"p":"R","kx":1255.4,"kx2":1255.4,"k1":103.8,"k2":102.47},{"p":"R","kx":1138.9,"kx2":1138.9,"k1":101.97,"k2":101.3},{"p":"R","kx":769.6,"kx2":769.6,"k1":99.8,"k2":98.3},{"p":"R","kx":698,"kx2":698,"k1":110.47,"k2":109.13},
{"p":"R","kx":3315,"kx2":3315,"k1":76.57,"k2":74.97},{"p":"R","kx":2900.8,"kx2":2900.8,"k1":72.63,"k2":71.8},{"p":"R","kx":2829.2,"kx2":2829.2,"k1":75.8,"k2":74.13},{"p":"R","kx":1519.5,"kx2":1519.5,"k1":69.37,"k2":68.63},{"p":"R","kx":1318.1,"kx2":1318.1,"k1":70.63,"k2":67.47},{"p":"R","kx":1228.5,"kx2":1228.5,"k1":63.97,"k2":62.13},{"p":"R","kx":1116.6,"kx2":1116.6,"k1":62.63,"k2":60.97},{"p":"R","kx":1027,"kx2":1027,"k1":62.97,"k2":59.97},{"p":"R","kx":751.6,"kx2":751.6,"k1":60.63,"k2":58.63},{"p":"R","kx":680,"kx2":680,"k1":68.47,"k2":67.47},
{"p":"R","kx":3303.8,"kx2":3303.8,"k1":29.8,"k2":28.13},{"p":"R","kx":2896.3,"kx2":2896.3,"k1":28.97,"k2":26.97},{"p":"R","kx":1362.8,"kx2":1362.8,"k1":23.8,"k2":22.8},{"p":"R","kx":1273.3,"kx2":1273.3,"k1":27.63,"k2":24.8},{"p":"R","kx":1228.5,"kx2":1228.5,"k1":18.8,"k2":16.97},{"p":"R","kx":852.4,"kx2":852.4,"k1":28.63,"k2":27.3},{"p":"R","kx":642,"kx2":642,"k1":20.47,"k2":19.47}
]
},
"hconcat":[
{"width":578,"height":1304,
"layer":[
{"data":{"name":"spec"},"transform":[{"filter":"datum.p === 'L'"}],
"mark":{"type":"line","color":"black","strokeWidth":1.5},
"encoding":{
"x":{"field":"w","type":"quantitative","scale":{"domain":[600,4000],"reverse":true,"nice":false,"zero":false},
"axis":{"title":"Wavenumber (cm⁻¹)","values":[4000,3500,3000,2500,2000,1500,1000,650],"format":"d","grid":false,"domain":false,"tickSize":-14,"tickColor":"black","tickWidth":1.3,"tickOffset":9,"labelFontSize":19,"labelColor":"black","labelFont":"Liberation Sans","labelPadding":19,"labelOverlap":false,"labelFlush":false,"labelBound":false,
"labelAlign":{"condition":[{"test":"datum.value == 4000","value":"left"},{"test":"datum.value == 650","value":"right"}],"value":"center"},
"labelOffset":{"condition":{"test":"datum.value == 4000","value":-9},"value":0},
"tickOpacity":{"condition":{"test":"datum.value == 4000 || datum.value == 650","value":0},"value":1},
"titleFontSize":20,"titleFontWeight":"normal","titleColor":"black","titleFont":"Liberation Sans","titlePadding":9}},
"y":{"field":"v","type":"quantitative","scale":{"domain":[0,130.4],"nice":false,"zero":false},
"axis":{"title":"%T (a u)","labels":false,"ticks":false,"domain":false,"grid":false,"titleFontSize":30,"titleFontWeight":"normal","titleColor":"black","titleFont":"Liberation Sans","titlePadding":5}},
"detail":{"field":"s"}}},
{"data":{"name":"tick"},"transform":[{"filter":"datum.p === 'L'"}],
"mark":{"type":"rule","color":"#3f3f9f","strokeWidth":1},
"encoding":{"x":{"field":"kx","type":"quantitative"},"x2":{"field":"kx2"},"y":{"field":"k1","type":"quantitative"},"y2":{"field":"k2"}}},
{"data":{"name":"lab"},"transform":[{"filter":"datum.p === 'L' && datum.o === 'v'"}],
"mark":{"type":"text","angle":270,"align":"right","baseline":"middle","fontSize":13,"color":"#3f3f9f","font":"Liberation Sans"},
"encoding":{"x":{"field":"tx","type":"quantitative"},"y":{"field":"ty","type":"quantitative"},"text":{"field":"t"}}},
{"data":{"name":"lab"},"transform":[{"filter":"datum.p === 'L' && datum.o === 'h'"}],
"mark":{"type":"text","align":"center","baseline":"middle","fontSize":13,"color":"#3f3f9f","font":"Liberation Sans"},
"encoding":{"x":{"field":"tx","type":"quantitative"},"y":{"field":"ty","type":"quantitative"},"text":{"field":"t"}}},
{"data":{"name":"lab"},"transform":[{"filter":"datum.p === 'L' && datum.o === 't'"}],
"mark":{"type":"text","align":"center","baseline":"middle","fontSize":21,"color":"black","font":"Liberation Sans"},
"encoding":{"x":{"field":"tx","type":"quantitative"},"y":{"field":"ty","type":"quantitative"},"text":{"field":"t"}}}
]},
{"width":578,"height":1304,
"layer":[
{"data":{"name":"spec"},"transform":[{"filter":"datum.p === 'R'"}],
"mark":{"type":"line","color":"black","strokeWidth":1.5},
"encoding":{
"x":{"field":"w","type":"quantitative","scale":{"domain":[600,4000],"reverse":true,"nice":false,"zero":false},
"axis":{"title":"Wavenumber (cm⁻¹)","values":[4000,3500,3000,2500,2000,1500,1000,650],"format":"d","grid":false,"domain":false,"tickSize":-14,"tickColor":"black","tickWidth":1.3,"tickOffset":13,"labelFontSize":19,"labelColor":"black","labelFont":"Liberation Sans","labelPadding":19,"labelOverlap":false,"labelFlush":false,"labelBound":false,
"labelAlign":{"condition":[{"test":"datum.value == 4000","value":"left"},{"test":"datum.value == 650","value":"right"}],"value":"center"},
"labelOffset":{"condition":[{"test":"datum.value == 4000","value":-13},{"test":"datum.value == 650","value":-4}],"value":0},
"tickOpacity":{"condition":{"test":"datum.value == 4000 || datum.value == 650","value":0},"value":1},
"titleFontSize":20,"titleFontWeight":"normal","titleColor":"black","titleFont":"Liberation Sans","titlePadding":9}},
"y":{"field":"v","type":"quantitative","scale":{"domain":[0,130.4],"nice":false,"zero":false},
"axis":{"title":"%T (a u)","labels":false,"ticks":false,"domain":false,"grid":false,"titleFontSize":30,"titleFontWeight":"normal","titleColor":"black","titleFont":"Liberation Sans","titlePadding":5}},
"detail":{"field":"s"}}},
{"data":{"name":"tick"},"transform":[{"filter":"datum.p === 'R'"}],
"mark":{"type":"rule","color":"#3f3f9f","strokeWidth":1},
"encoding":{"x":{"field":"kx","type":"quantitative"},"x2":{"field":"kx2"},"y":{"field":"k1","type":"quantitative"},"y2":{"field":"k2"}}},
{"data":{"name":"lab"},"transform":[{"filter":"datum.p === 'R' && datum.o === 'v'"}],
"mark":{"type":"text","angle":270,"align":"right","baseline":"middle","fontSize":13,"color":"#3f3f9f","font":"Liberation Sans"},
"encoding":{"x":{"field":"tx","type":"quantitative"},"y":{"field":"ty","type":"quantitative"},"text":{"field":"t"}}},
{"data":{"name":"lab"},"transform":[{"filter":"datum.p === 'R' && datum.o === 'h'"}],
"mark":{"type":"text","align":"center","baseline":"middle","fontSize":13,"color":"#3f3f9f","font":"Liberation Sans"},
"encoding":{"x":{"field":"tx","type":"quantitative"},"y":{"field":"ty","type":"quantitative"},"text":{"field":"t"}}},
{"data":{"name":"lab"},"transform":[{"filter":"datum.p === 'R' && datum.o === 't'"}],
"mark":{"type":"text","align":"center","baseline":"middle","fontSize":21,"color":"black","font":"Liberation Sans"},
"encoding":{"x":{"field":"tx","type":"quantitative"},"y":{"field":"ty","type":"quantitative"},"text":{"field":"t"}}}
]}
]
}
